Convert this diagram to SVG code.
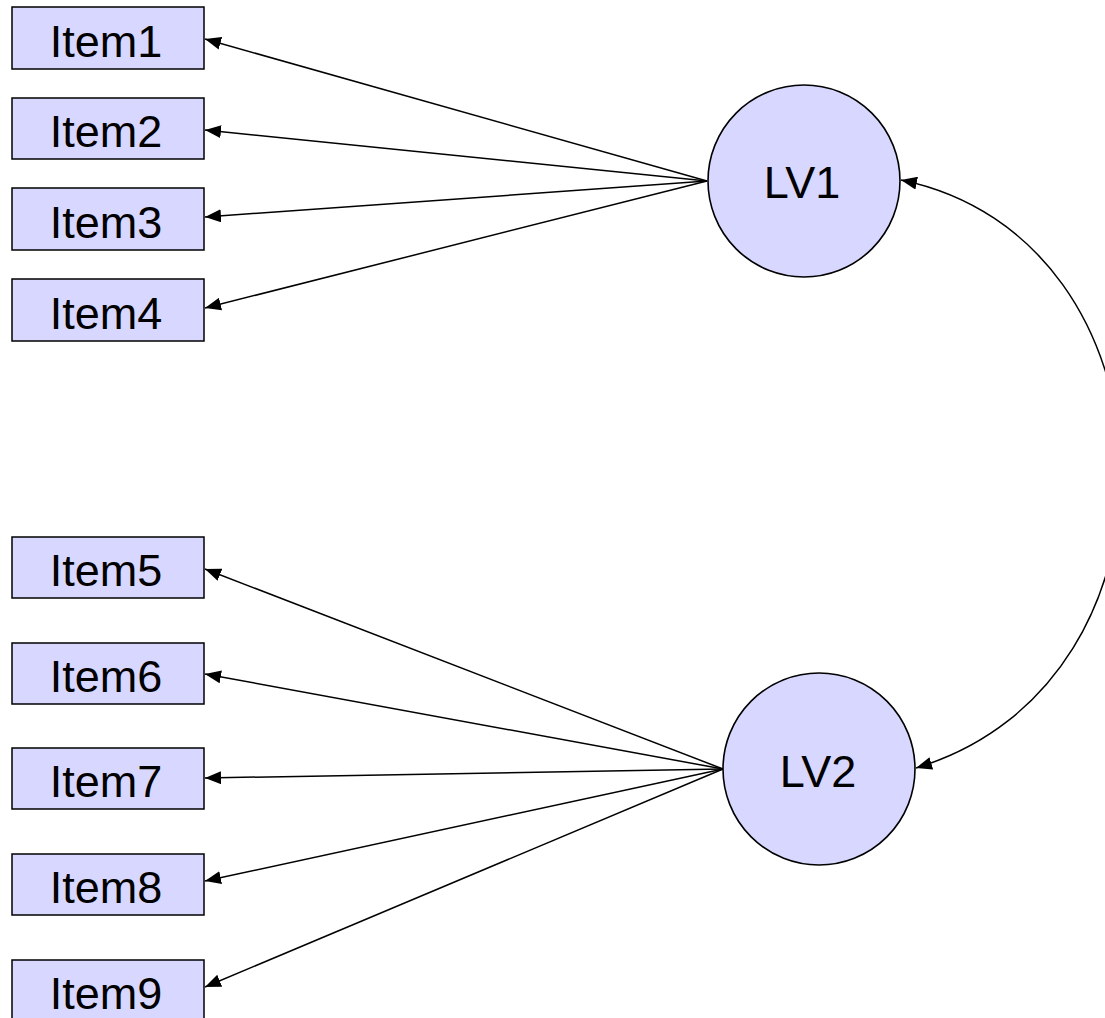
<svg xmlns="http://www.w3.org/2000/svg" width="1105" height="1018" viewBox="0 0 1105 1018">
<defs>
<marker id="ah" viewBox="0 0 16 13" refX="16" refY="6.5" markerWidth="16" markerHeight="13" markerUnits="userSpaceOnUse" orient="auto-start-reverse">
<path d="M0,0 L16,6.5 L0,13 Z" fill="#000"/>
</marker>
<style>
.box{fill:#d7d7ff;stroke:#000;stroke-width:1.5}
.lv{fill:#d7d7ff;stroke:#000;stroke-width:1.6}
.lbl{font-family:"Liberation Sans",Arial,sans-serif;font-size:45px;fill:#000;text-anchor:middle}
.edge{stroke:#000;stroke-width:1.5;fill:none}
</style>
</defs>
<rect width="1105" height="1018" fill="#fff"/>
<g id="connectors">
<line class="edge" x1="707" y1="181" x2="205" y2="39" marker-end="url(#ah)"/>
<line class="edge" x1="707" y1="181" x2="205" y2="130" marker-end="url(#ah)"/>
<line class="edge" x1="707" y1="181" x2="205" y2="217" marker-end="url(#ah)"/>
<line class="edge" x1="707" y1="181" x2="205" y2="308" marker-end="url(#ah)"/>
<line class="edge" x1="723" y1="769" x2="205" y2="569" marker-end="url(#ah)"/>
<line class="edge" x1="723" y1="769" x2="205" y2="674" marker-end="url(#ah)"/>
<line class="edge" x1="723" y1="769" x2="205" y2="778" marker-end="url(#ah)"/>
<line class="edge" x1="723" y1="769" x2="205" y2="881" marker-end="url(#ah)"/>
<line class="edge" x1="723" y1="769" x2="205" y2="987" marker-end="url(#ah)"/>
<path class="edge" d="M901,180 C1184,238 1199,683 916,768" marker-start="url(#ah)" marker-end="url(#ah)"/>
</g>
<g id="item1"><rect class="box" x="12" y="7" width="192" height="62"/><text class="lbl" x="106" y="57">Item1</text></g>
<g id="item2"><rect class="box" x="12" y="98" width="192" height="61"/><text class="lbl" x="106" y="147">Item2</text></g>
<g id="item3"><rect class="box" x="12" y="188" width="192" height="62"/><text class="lbl" x="106" y="238">Item3</text></g>
<g id="item4"><rect class="box" x="12" y="279" width="192" height="62"/><text class="lbl" x="106" y="329">Item4</text></g>
<g id="item5"><rect class="box" x="12" y="537" width="192" height="61"/><text class="lbl" x="106" y="586">Item5</text></g>
<g id="item6"><rect class="box" x="12" y="643" width="192" height="61"/><text class="lbl" x="106" y="692">Item6</text></g>
<g id="item7"><rect class="box" x="12" y="748" width="192" height="61"/><text class="lbl" x="106" y="797">Item7</text></g>
<g id="item8"><rect class="box" x="12" y="854" width="192" height="61"/><text class="lbl" x="106" y="903">Item8</text></g>
<g id="item9"><rect class="box" x="12" y="960" width="192" height="62"/><text class="lbl" x="106" y="1009">Item9</text></g>
<g id="lv1"><circle class="lv" cx="804" cy="181" r="96"/><text class="lbl" x="802" y="198">LV1</text></g>
<g id="lv2"><circle class="lv" cx="819" cy="769" r="96"/><text class="lbl" x="818" y="787">LV2</text></g>
</svg>
